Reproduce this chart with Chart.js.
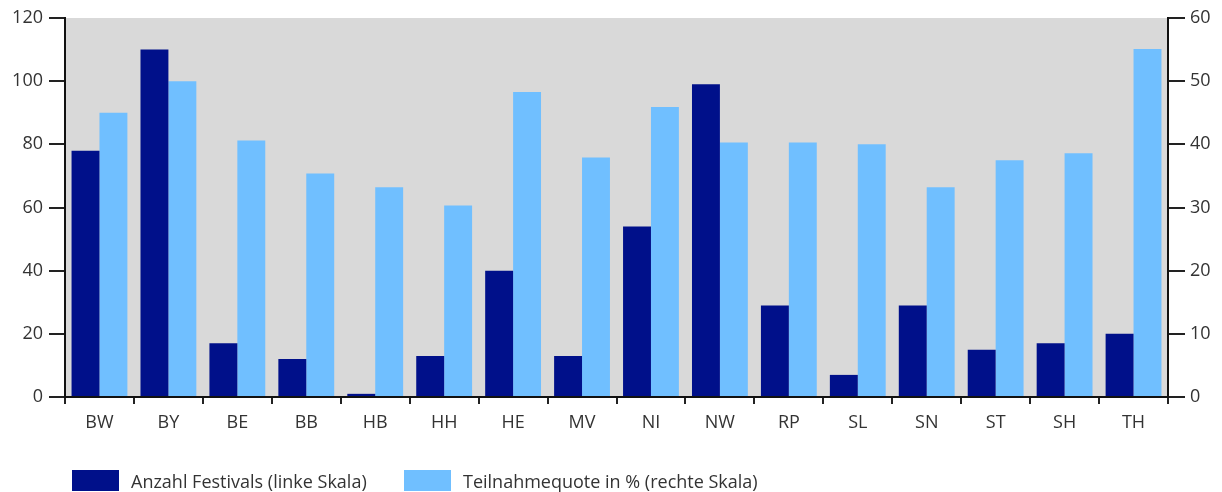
<!DOCTYPE html>
<html>
<head>
<meta charset="utf-8">
<script src="https://cdn.jsdelivr.net/npm/chart.js@4"></script>
<style>
  html, body { margin: 0; padding: 0; background: #fff; }
  #wrap { position: relative; width: 1222px; height: 492px; }
  #legend { position: absolute; left: 72px; top: 470px; height: 21px; font: 18px "Open Sans", sans-serif; color: #333; }
  #legend .item { position: absolute; top: 0; white-space: nowrap; line-height: 22px; }
  #legend .box { display: inline-block; width: 47px; height: 21px; vertical-align: top; margin-right: 12px; }
</style>
</head>
<body>
<div id="wrap"><canvas id="chartFestivals"></canvas><div id="legend"></div></div>
<script>
const laender = ['BW','BY','BE','BB','HB','HH','HE','MV','NI','NW','RP','SL','SN','ST','SH','TH'];
const anzahlFestivals = [78,110,17,12,1,13,40,13,54,99,29,7,29,15,17,20];
const teilnahmequote = [45,50,40.6,35.4,33.2,30.3,48.3,37.9,45.9,40.3,40.3,40,33.2,37.5,38.6,55.1];
const leftTicks = [0,20,40,60,80,100,120];
const rightTicks = [0,10,20,30,40,50,60];

(function initChart(){
  const dark = '#00108a';
  const light = '#70bfff';
  const ink = '#333333';
  const font = { family: '"Open Sans", sans-serif', size: 18 };

  const plotBg = {
    id: 'plotBg',
    beforeDraw(chart) {
      const a = chart.chartArea, c = chart.ctx;
      c.save();
      c.fillStyle = '#d9d9d9';
      c.fillRect(a.left, a.top, a.right - a.left, a.bottom - a.top);
      c.restore();
    }
  };

  const chart = new Chart(document.getElementById('chartFestivals'), {
    type: 'bar',
    data: {
      labels: laender,
      datasets: [
        { label: 'Anzahl Festivals (linke Skala)', data: anzahlFestivals, backgroundColor: dark, yAxisID: 'y' },
        { label: 'Teilnahmequote in % (rechte Skala)', data: teilnahmequote, backgroundColor: light, yAxisID: 'y1' }
      ]
    },
    options: {
      responsive: true,
      maintainAspectRatio: false,
      animation: false,
      datasets: { bar: { categoryPercentage: 0.81, barPercentage: 1.0 } },
      layout: { padding: { top: 18, left: 0, right: 0, bottom: 35 } },
      plugins: {
        tooltip: { enabled: false },
        legend: { display: false }
      },
      scales: {
        x: {
          grid: { display: true, drawOnChartArea: false, tickLength: 7, color: '#222', lineWidth: 2 },
          border: { display: true, color: '#111', width: 2 },
          ticks: { color: ink, font: font, padding: 8 },
          afterFit(s) { s.height = 60; }
        },
        y: {
          position: 'left',
          min: 0, max: 120,
          afterBuildTicks(s) { s.ticks = leftTicks.map(v => ({ value: v })); },
          grid: { display: true, drawOnChartArea: false, tickLength: 16, color: '#222', lineWidth: 2 },
          border: { display: true, color: '#111', width: 2 },
          ticks: { color: ink, font: font, padding: 6 },
          afterFit(s) { s.width = 65; }
        },
        y1: {
          position: 'right',
          min: 0, max: 60,
          afterBuildTicks(s) { s.ticks = rightTicks.map(v => ({ value: v })); },
          grid: { display: true, drawOnChartArea: false, tickLength: 17, color: '#222', lineWidth: 2 },
          border: { display: true, color: '#111', width: 2 },
          ticks: { color: ink, font: font, padding: 5 },
          afterFit(s) { s.width = 54; }
        }
      }
    },
    plugins: [plotBg]
  });

  // legend in HTML, laid out like the original
  const legendX = [0, 332];
  const legend = document.getElementById('legend');
  chart.data.datasets.forEach((ds, i) => {
    const item = document.createElement('span');
    item.className = 'item';
    item.style.left = legendX[i] + 'px';
    item.innerHTML = '<span class="box" style="background:' + ds.backgroundColor + '"></span>' + ds.label;
    legend.appendChild(item);
  });
})();
</script>
</body>
</html>
